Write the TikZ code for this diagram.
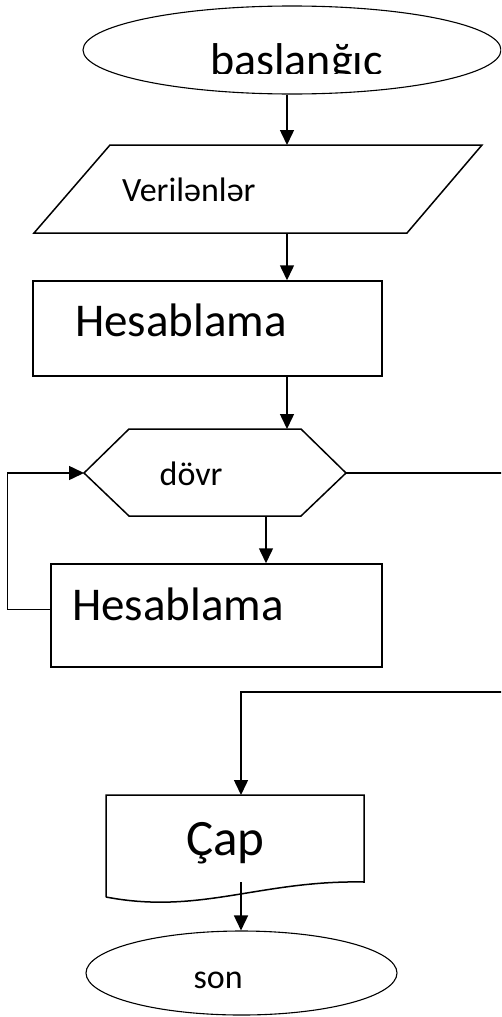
\documentclass[tikz,border=0pt]{standalone}
\usepackage{fontspec}
\setmainfont{Carlito}
\usetikzlibrary{shapes.geometric,arrows.meta}

\begin{document}
\begin{tikzpicture}[x=1pt, y=-1pt,
  box/.style={draw, line width=1.5pt, inner sep=0pt},
  term/.style={draw, ellipse, line width=1.1pt, inner sep=0pt},
  big/.style={inner sep=0pt, anchor=base west, font=\fontsize{47}{51}\selectfont},
  small/.style={inner sep=0pt, anchor=base west, font=\fontsize{34}{38}\selectfont},
  flow/.style={line width=1.5pt, -{Triangle[length=15pt, width=14pt]}},
  wire/.style={line width=1.5pt}]

%---------------- 畫布 ----------------%
\clip (0,0) rectangle (501,1017);

%---------------- 開始 ----------------%
\node[term, minimum width=418pt, minimum height=88pt] (start) at (292,50) {};
\begin{scope}
\clip (150,30) rectangle (450,73); % 文字下半被裁掉
\node[big, font=\fontsize{46}{50}\selectfont] (startTxt) at (210,75) {baslanğıc};
\end{scope}

%---------------- 輸入 (平行四邊形) ----------------%
\coordinate (inTop) at (287,145);
\coordinate (inBot) at (287,233);
\draw[wire] (110,145) -- (482,145) -- (407,233) -- (34,233) -- cycle;
\node[small] (inTxt) at (122,201) {Verilənlər};
\draw[flow] (start.south -| inTop) -- (inTop);

%---------------- 計算 ----------------%
\node[box, minimum width=349pt, minimum height=95pt] (calc) at (207.5,328.5) {};
\node[big] (calcTxt) at (75,336) {Hesablama};
\draw[flow] (inBot) -- (inBot |- calc.north);

%---------------- 循環 (六角形) ----------------%
\coordinate (loopL) at (84,473);
\coordinate (loopR) at (346,473);
\coordinate (loopT) at (287,429);
\coordinate (loopB) at (266,516);
\draw[wire] (loopL) -- (129,429) -- (301,429) -- (loopR) -- (301,516) -- (129,516) -- cycle;
\node[small] (loopTxt) at (159.5,485) {dövr};
\draw[flow] (calc.south -| loopT) -- (loopT);

%---------------- 循環體 ----------------%
\node[box, minimum width=331pt, minimum height=103pt] (body) at (216.5,615.5) {};
\node[big] (bodyTxt) at (72,620) {Hesablama};
\draw[flow] (loopB) -- (loopB |- body.north);
\draw[flow] ([yshift=6pt]body.west) -- ++(-43,0) |- (loopL); % 回到六角形

%---------------- 輸出 (文件) ----------------%
\coordinate (docTop) at (241,795);
\coordinate (docOut) at (241,882);
\draw[wire] (106,897) -- (106,795) -- (364,795) -- (364,882)
  .. controls (260,880) and (200,915) .. (106,897);
\node[big, font=\fontsize{51}{55}\selectfont] (docTxt) at (186,855) {Çap};
\draw[flow] (loopR) -- ++(164,0) -- ++(0,219) -| (docTop);

%---------------- 結束 ----------------%
\node[term, minimum width=311pt, minimum height=84pt] (stop) at (241.5,973) {};
\node[small] (stopTxt) at (193.5,988) {son};
\draw[flow] (docOut) -- (docOut |- stop.north);

\end{tikzpicture}
\end{document}
